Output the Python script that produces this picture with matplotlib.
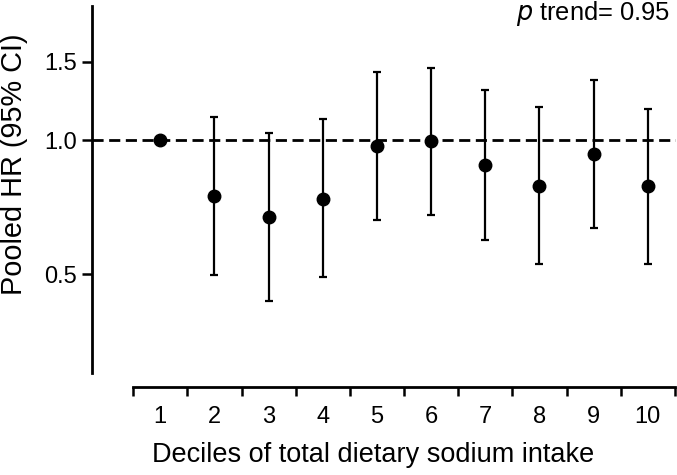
import matplotlib
matplotlib.use("Agg")
import matplotlib.pyplot as plt
import numpy as np

plt.rcParams['font.family'] = ['Liberation Sans', 'DejaVu Sans']

deciles = [1, 2, 3, 4, 5, 6, 7, 8, 9, 10]
hr = [1.0, 0.748, 0.671, 0.738, 0.969, 0.996, 0.877, 0.790, 0.930, 0.788]
ci_low = [1.0, 0.497, 0.436, 0.492, 0.663, 0.678, 0.596, 0.527, 0.635, 0.528]
ci_high = [1.0, 1.126, 1.035, 1.113, 1.42, 1.454, 1.295, 1.184, 1.364, 1.174]
ytick_vals = [0.5, 1.0, 1.5]
ytick_labels = ["0.5", "1.0", "1.5"]

fig = plt.figure(figsize=(6.77, 4.75), dpi=100)
ax = fig.add_axes([92/677, 1-373/475, (676-92)/677, (373-6)/475])

ax.set_yscale('log')
ax.set_ylim(0.3, 2.0)
ax.set_xlim(-0.26, 10.52)

ax.axhline(1.0, color='black', linestyle=(0, (4, 2)), linewidth=2, zorder=1)

x = np.array(deciles, dtype=float)
y = np.array(hr)
lo = y - np.array(ci_low)
hi = np.array(ci_high) - y
ax.errorbar(x[1:], y[1:], yerr=[lo[1:], hi[1:]], fmt='none', ecolor='black',
            elinewidth=1.6, capsize=3.2, capthick=1.6, zorder=2)
ax.plot(x, y, 'o', color='black', markersize=9, zorder=3)

ax.spines['top'].set_visible(False)
ax.spines['right'].set_visible(False)
ax.spines['left'].set_linewidth(2)
ax.spines['bottom'].set_linewidth(2)
ax.spines['bottom'].set_position(('outward', 10))
ax.spines['bottom'].set_bounds(0.5, 10.5)

ax.yaxis.set_major_locator(matplotlib.ticker.FixedLocator(ytick_vals))
ax.yaxis.set_major_formatter(matplotlib.ticker.FixedFormatter(ytick_labels))
ax.yaxis.set_minor_locator(matplotlib.ticker.NullLocator())
ax.tick_params(axis='y', which='major', direction='out', length=7.5, width=1.8,
               labelsize=17, pad=3.5)

ax.set_xticks(np.arange(0.5, 11, 1.0))
ax.set_xticklabels([])
ax.set_xticks(x, minor=True)
ax.set_xticklabels([str(d) for d in deciles], minor=True)
ax.tick_params(axis='x', which='major', direction='out', length=6.5, width=1.8)
ax.tick_params(axis='x', which='minor', length=0, labelsize=17, pad=14)

ax.set_ylabel("Pooled HR (95% CI)", fontsize=20.8)
ax.yaxis.set_label_coords((28 - 92) / 584, (373 - 164) / 367)
ax.set_xlabel("Deciles of total dietary sodium intake", fontsize=19.5)
ax.xaxis.set_label_coords((373 - 92) / 584, (373 - 442) / 367)

fig.text(670/677, 1-20/475, r"$\it{p}$ trend= 0.95", ha='right', va='baseline', fontsize=18.4)

fig.savefig("out.png", dpi=100)
